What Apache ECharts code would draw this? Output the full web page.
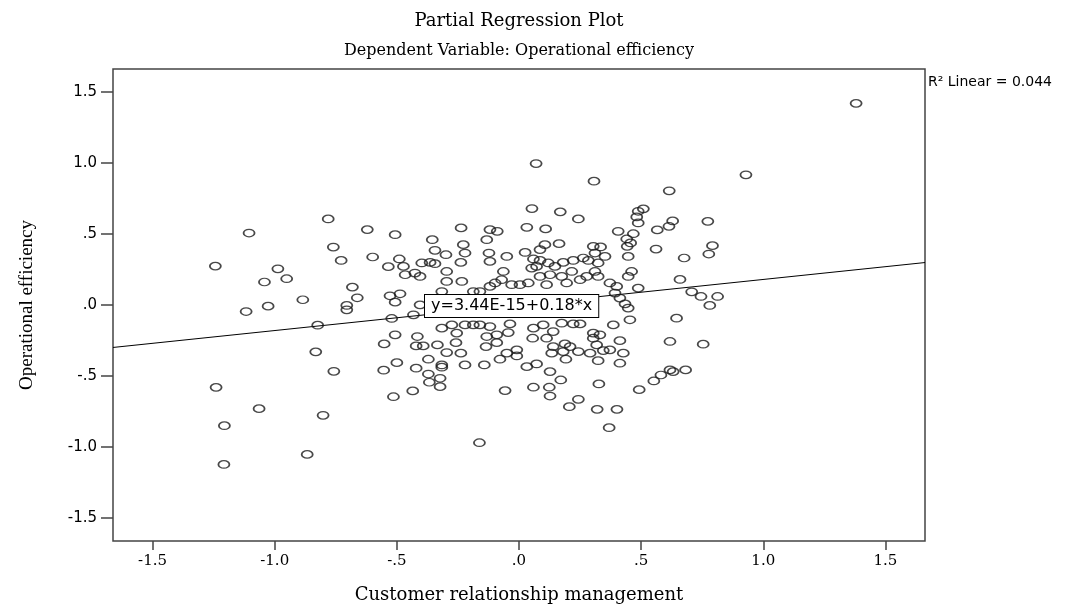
<!DOCTYPE html>
<html>
<head>
<meta charset="utf-8">
<script src="https://cdn.jsdelivr.net/npm/echarts@6/dist/echarts.min.js"></script>
<style>
  html, body { margin: 0; padding: 0; background: #fff; }
  #chart { width: 1083px; height: 610px; }
</style>
</head>
<body>
<div id="chart"></div>
<script>
// partial regression: Customer relationship management (x) vs Operational efficiency (y)
const crm = [
  -1.105, -1.243, -0.781, -0.621, -0.507, -0.760, -0.728, -0.599, -0.535, -0.490,
  -0.987, -0.951, -1.042, -0.682, -0.662, -0.705, -0.705, -0.885, -1.027, -1.117,
  -0.824, -0.528, -0.507, -0.521, -0.507,
  -0.552, -0.832, -0.500, -0.554, -0.758, -1.240, -0.514, -1.064, -0.802, -1.206,
  -0.867, -1.208,
  0.929, 0.615, 0.629, 0.614, 0.566, 0.773, 0.561, 0.792, 0.777, 0.676,
  0.659, 0.707, 0.745, 0.813, 0.781, 0.645, 1.380,
  0.618, 0.754, 0.618, 0.631, 0.682, 0.581, 0.552,
  -0.316, -0.275, -0.255, -0.221, -0.187, -0.160, -0.119, -0.132, -0.091, -0.037,
  -0.044, 0.059, 0.099, 0.140, 0.175, 0.222, 0.250, 0.304, 0.331, 0.386,
  0.454, -0.416, -0.421, -0.392, -0.334, -0.258, -0.135, -0.091, 0.056, 0.113,
  0.140, 0.188, 0.209, 0.304, 0.318, 0.413, -0.296, -0.238, -0.050, -0.009,
  -0.009, 0.134, 0.181, 0.243, 0.291, 0.345, 0.372, 0.427, 0.324, 0.413,
  -0.371, -0.316, -0.316, -0.421, -0.221, -0.142, -0.078, 0.032, 0.072, 0.192,
  0.127, -0.371, -0.323, -0.367, -0.323, -0.435, -0.057, 0.059, 0.124, 0.127,
  0.171, 0.327, 0.243, 0.206, 0.320, 0.401, 0.369, -0.162, 0.492,
  0.070, 0.307, 0.053, 0.169, 0.243, 0.488, 0.509, 0.482, 0.488, 0.406,
  0.441, 0.468, 0.457, 0.443, 0.447, 0.461, 0.447, 0.488, 0.032, 0.109,
  0.164, -0.237, -0.119, -0.089, -0.355, -0.132, -0.344, -0.299, -0.228, -0.221,
  -0.238, -0.123, -0.119, -0.050, 0.025, 0.086, 0.106, 0.059, 0.086, 0.072,
  0.120, 0.147, 0.181, 0.222, 0.263, 0.284, 0.304, 0.334, 0.311, 0.324,
  0.352, 0.311, 0.277, 0.324, 0.216, 0.250, 0.175, 0.195, 0.127, 0.113,
  0.086, 0.052, 0.038, 0.004, -0.030, -0.064, -0.071, -0.098, -0.119, -0.160,
  -0.187, -0.234, -0.296, -0.296, -0.316, -0.398, -0.364, -0.344, -0.405, -0.426,
  -0.466, -0.473, -0.487, -0.432, -0.405, 0.413, 0.434, 0.447, 0.400, 0.372,
  0.393
];
const opEff = [
  0.507, 0.274, 0.606, 0.531, 0.495, 0.408, 0.314, 0.338, 0.270, 0.324,
  0.255, 0.185, 0.162, 0.126, 0.051, -0.003, -0.034, 0.037, -0.008, -0.046,
  -0.142, 0.065, 0.020, -0.095, -0.210,
  -0.274, -0.330, -0.406, -0.459, -0.467, -0.580, -0.646, -0.730, -0.777, -0.850,
  -1.052, -1.123,
  0.917, 0.804, 0.592, 0.554, 0.529, 0.589, 0.394, 0.418, 0.359, 0.331,
  0.180, 0.093, 0.060, 0.060, -0.003, -0.093, 1.420,
  -0.257, -0.276, -0.457, -0.469, -0.457, -0.493, -0.535,
  -0.163, -0.140, -0.198, -0.140, -0.140, -0.140, -0.152, -0.222, -0.210, -0.133,
  -0.194, -0.163, -0.140, -0.187, -0.128, -0.133, -0.133, -0.198, -0.210, -0.140,
  -0.104, -0.222, -0.288, -0.288, -0.281, -0.265, -0.293, -0.265, -0.234, -0.234,
  -0.293, -0.274, -0.293, -0.234, -0.281, -0.251, -0.335, -0.339, -0.339, -0.316,
  -0.359, -0.339, -0.328, -0.328, -0.339, -0.321, -0.316, -0.339, -0.392, -0.410,
  -0.382, -0.422, -0.438, -0.445, -0.422, -0.422, -0.382, -0.434, -0.415, -0.382,
  -0.469, -0.486, -0.516, -0.544, -0.575, -0.605, -0.603, -0.579, -0.579, -0.641,
  -0.528, -0.556, -0.664, -0.716, -0.735, -0.735, -0.864, -0.970, -0.596,
  0.996, 0.872, 0.679, 0.656, 0.606, 0.660, 0.677, 0.620, 0.578, 0.519,
  0.465, 0.502, 0.437, 0.413, 0.342, 0.236, 0.201, 0.119, 0.547, 0.536,
  0.432, 0.543, 0.531, 0.519, 0.460, 0.460, 0.385, 0.354, 0.425, 0.366,
  0.300, 0.366, 0.307, 0.342, 0.370, 0.390, 0.425, 0.324, 0.314, 0.272,
  0.296, 0.272, 0.300, 0.314, 0.331, 0.314, 0.413, 0.409, 0.366, 0.296,
  0.342, 0.236, 0.201, 0.201, 0.236, 0.178, 0.201, 0.155, 0.213, 0.143,
  0.201, 0.260, 0.155, 0.143, 0.143, 0.236, 0.178, 0.155, 0.131, 0.095,
  0.095, 0.166, 0.236, 0.166, 0.095, 0.296, 0.300, 0.291, 0.201, 0.225,
  0.213, 0.272, 0.079, -0.069, 0.001, 0.049, 0.008, -0.022, 0.131, 0.155,
  0.084
];

// fit line ends (at the frame edges)
const fitX = [-1.662, 1.662];
const fitY = [-0.299, 0.299];

const xTicks = [-1.5, -1.0, -0.5, 0, 0.5, 1.0, 1.5];
const yTicks = [-1.5, -1.0, -0.5, 0, 0.5, 1.0, 1.5];
const axisMin = -1.662, axisMax = 1.662;

const titleText = "Partial Regression Plot";
const subText = "Dependent Variable: Operational efficiency";
const eqText = "y=3.44E-15+0.18*x";
const r2Text = "R\u00b2 Linear = 0.044";

// 1.0 -> "1.0", 0.5 -> ".5", -0.5 -> "-.5"
function spssFmt(v) {
  return v.toFixed(1).replace(/^(-?)0\./, "$1.");
}

const chart = echarts.init(document.getElementById("chart"), null, { renderer: "canvas" });

const option = {
  backgroundColor: "#fff",
  animation: false,
  grid: {
    left: 113, right: 158, top: 69, bottom: 69,
    show: true, borderColor: "#444", borderWidth: 1.5, backgroundColor: "transparent"
  },
  xAxis: {
    type: "value",
    min: axisMin, max: axisMax,
    name: "Customer relationship management",
    nameLocation: "middle",
    nameGap: 45,
    nameTextStyle: { fontFamily: "DejaVu Serif", fontSize: 18, color: "#000" },
    axisLine: { show: false, onZero: false },
    splitLine: { show: false },
    axisTick: { show: true, inside: false, length: 9, customValues: xTicks,
      lineStyle: { color: "#444", width: 1.5 } },
    axisLabel: { customValues: xTicks, formatter: spssFmt, margin: 13,
      fontFamily: "DejaVu Serif", fontSize: 15, color: "#000" }
  },
  yAxis: {
    type: "value",
    min: axisMin, max: axisMax,
    name: "Operational efficiency",
    nameLocation: "middle",
    nameRotate: 90,
    nameGap: 76,
    nameTextStyle: { fontFamily: "Liberation Serif", fontSize: 19, color: "#000" },
    axisLine: { show: false, onZero: false },
    splitLine: { show: false },
    axisTick: { show: true, inside: false, length: 12, customValues: yTicks,
      lineStyle: { color: "#444", width: 1.5 } },
    axisLabel: { customValues: yTicks, formatter: spssFmt, margin: 16,
      fontFamily: "DejaVu Sans", fontSize: 15, color: "#000" }
  },
  series: [
    {
      name: "fit",
      type: "line",
      data: fitX.map((x, i) => [x, fitY[i]]),
      symbol: "none",
      silent: true,
      lineStyle: { color: "#000", width: 1 },
      z: 1
    },
    {
      name: "points",
      type: "scatter",
      data: crm.map((x, i) => [x, opEff[i]]),
      symbol: "circle",
      symbolSize: [11, 7.5],
      itemStyle: { color: "rgba(255,255,255,0)", borderColor: "#1a1a1a", borderWidth: 1.5 },
      z: 2
    }
  ],
  graphic: [
    { type: "text", x: 519, y: 21, z: 100,
      style: { text: titleText, align: "center", verticalAlign: "middle",
        font: "18px 'DejaVu Serif'", fill: "#000" } },
    { type: "text", x: 519, y: 51, z: 100,
      style: { text: subText, align: "center", verticalAlign: "middle",
        font: "16px 'DejaVu Serif'", fill: "#000" } },
    { type: "text", x: 928, y: 82, z: 100,
      style: { text: r2Text, align: "left", verticalAlign: "middle",
        font: "14px 'DejaVu Sans'", fill: "#000" } },
    { type: "text", x: 425, y: 306, z: 100,
      style: { text: eqText, align: "left", verticalAlign: "middle",
        font: "16px 'DejaVu Sans'", fill: "#000",
        backgroundColor: "#fff", borderColor: "#000", borderWidth: 1,
        padding: [3, 6, 3, 6] } }
  ]
};

chart.setOption(option);
</script>
</body>
</html>
